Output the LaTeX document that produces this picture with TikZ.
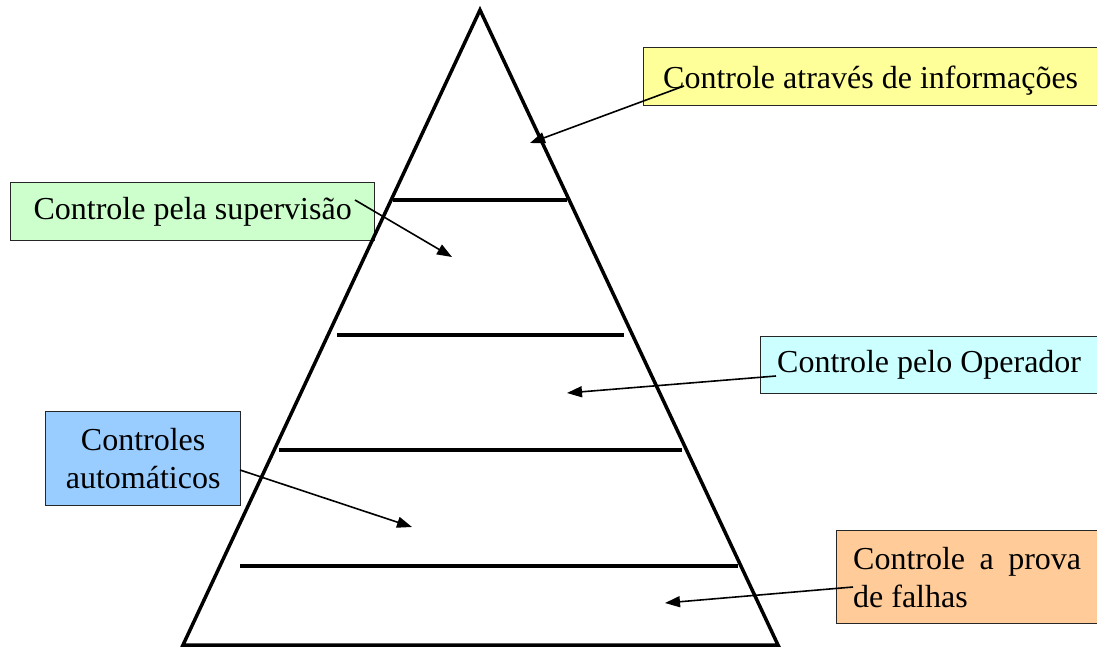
\documentclass[tikz,border=0pt]{standalone}
\usepackage{fontspec}
\setmainfont{Liberation Serif}
\usetikzlibrary{arrows.meta}
\definecolor{boxyellow}{HTML}{FFFF99}
\definecolor{boxgreen}{HTML}{CCFFCC}
\definecolor{boxcyan}{HTML}{CCFFFF}
\definecolor{boxblue}{HTML}{99CCFF}
\definecolor{boxorange}{HTML}{FFCC99}
\tikzset{
  label box/.style={draw=black!85, line width=1.3pt, anchor=north west, inner sep=0pt,
    font=\fontsize{32}{38}\selectfont, align=center},
  level line/.style={line width=3.5pt},
  pyramid/.style={line width=3.5pt, line join=miter},
  pointer/.style={line width=1.6pt, -{Triangle[length=15pt,width=11pt]}},
}
\begin{document}
\begin{tikzpicture}[x=1pt,y=-1pt]
\useasboundingbox (0,0) rectangle (1097,648);

% label boxes
\node[label box, fill=boxyellow, minimum width=454pt, minimum height=58pt,
  text height=26pt, text depth=2pt] (info) at (643,47)
  {Controle através de informações};
\node[label box, fill=boxgreen, minimum width=364pt, minimum height=58pt] (super) at (10,182)
  {Controle pela supervisão};
\node[label box, fill=boxcyan, minimum width=337pt, minimum height=57pt] (oper) at (760,336)
  {Controle pelo Operador};
\node[label box, fill=boxblue, minimum width=195pt, minimum height=94pt] (auto) at (45,411)
  {Controles\\automáticos};
\node[label box, fill=boxorange, minimum width=261pt, minimum height=93pt, align=left] (fail) at (836,530)
  {\makebox[228pt][s]{Controle a prova}\\de falhas};

% pyramid and its levels
\coordinate (apex) at (480,10);
\coordinate (bl) at (183,645);
\coordinate (br) at (778,645);
\draw[pyramid] (bl) -- (apex) -- (br) -- cycle;
\coordinate (l1a) at (393,200); \coordinate (l1b) at (567,200);
\coordinate (l2a) at (337,335); \coordinate (l2b) at (624,335);
\coordinate (l3a) at (279,450); \coordinate (l3b) at (682,450);
\coordinate (l4a) at (240,566); \coordinate (l4b) at (738,566);
\draw[level line] (l1a) -- (l1b);
\draw[level line] (l2a) -- (l2b);
\draw[level line] (l3a) -- (l3b);
\draw[level line] (l4a) -- (l4b);

% pointers from each label into its level
\coordinate (infoS) at (684,86);   \coordinate (infoT) at (530,143);
\coordinate (superS) at (355,200); \coordinate (superT) at (452,257);
\coordinate (operS) at (776,376);  \coordinate (operT) at (567,393);
\coordinate (autoS) at (240,470);  \coordinate (autoT) at (412,527);
\coordinate (failS) at (853,587);  \coordinate (failT) at (665,603);
\draw[pointer] (infoS) -- (infoT);
\draw[pointer] (superS) -- (superT);
\draw[pointer] (operS) -- (operT);
\draw[pointer] (autoS) -- (autoT);
\draw[pointer] (failS) -- (failT);
\end{tikzpicture}
\end{document}
